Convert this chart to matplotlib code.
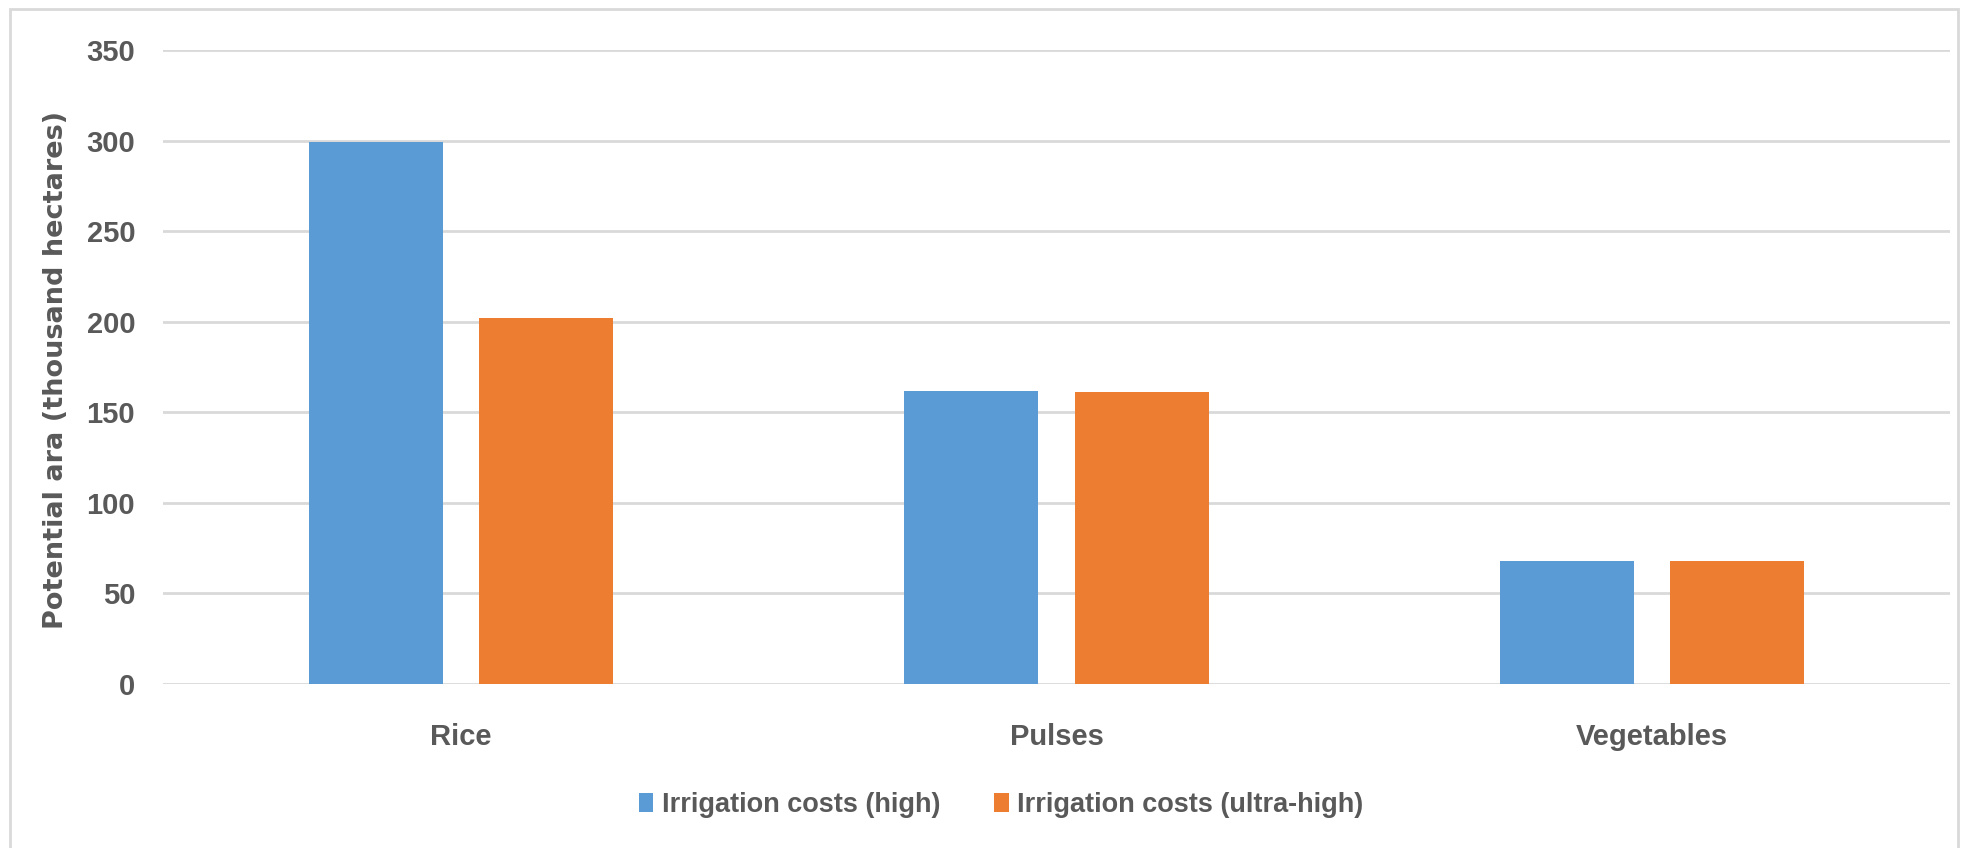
import matplotlib
matplotlib.use("Agg")
import matplotlib.pyplot as plt
import matplotlib.patches as patches
import numpy as np

# data
crops = ["Rice", "Pulses", "Vegetables"]
high = [299, 162, 68]
ultra_high = [202, 161, 68]
series_names = ["Irrigation costs (high)", "Irrigation costs (ultra-high)"]
yticks = [0, 50, 100, 150, 200, 250, 300, 350]

BLUE = "#5B9BD5"
ORANGE = "#ED7D31"
TEXT = "#595959"
GRID = "#D9D9D9"
FONT = "Liberation Sans"

W, H = 1964, 848
fig = plt.figure(figsize=(W / 100, H / 100), dpi=100)
ax = fig.add_axes([163 / W, 1 - 684 / H, (1950 - 163) / W, (684 - 50) / H])

x = np.arange(len(crops))
bw = 0.225
off = bw / 2 + 0.0305
ax.bar(x - off, high, bw, color=BLUE, label=series_names[0], zorder=3)
ax.bar(x + off, ultra_high, bw, color=ORANGE, label=series_names[1], zorder=3)

ax.set_xlim(-0.5, len(crops) - 0.5)
ax.set_ylim(0, 350)
ax.set_yticks(yticks)
ax.yaxis.grid(True, color=GRID, linewidth=2, zorder=0)
ax.set_axisbelow(True)
for s in ax.spines.values():
    s.set_visible(False)
ax.tick_params(length=0)
ax.tick_params(axis="y", pad=20)
ax.tick_params(axis="x", pad=28)
ax.set_xticks(x)
ax.set_xticklabels(crops)
for lab in ax.get_xticklabels() + ax.get_yticklabels():
    lab.set_fontfamily(FONT)
    lab.set_fontsize(21)
    lab.set_fontweight("bold")
    lab.set_color(TEXT)

fig.text(56 / W, 1 - 370 / H, "Potential ara (thousand hectares)", rotation=90,
         ha="center", va="center", fontsize=19.5, fontweight="bold",
         color=TEXT, family="DejaVu Sans")

leg = fig.legend(loc="center", bbox_to_anchor=(1001 / W, 1 - 805 / H), ncol=2,
                 frameon=False, handlelength=0.55, handleheight=0.7,
                 handletextpad=0.3, columnspacing=2.0,
                 prop={"family": FONT, "size": 19.5, "weight": "bold"})
for t in leg.get_texts():
    t.set_color(TEXT)

# outer chart border
fig.patches.append(patches.Rectangle((10 / W, -0.05), (1958 - 10) / W, 1 - 9 / H + 0.05,
                                     transform=fig.transFigure, fill=False,
                                     edgecolor=GRID, linewidth=2))

fig.savefig("out.png", dpi=100)
